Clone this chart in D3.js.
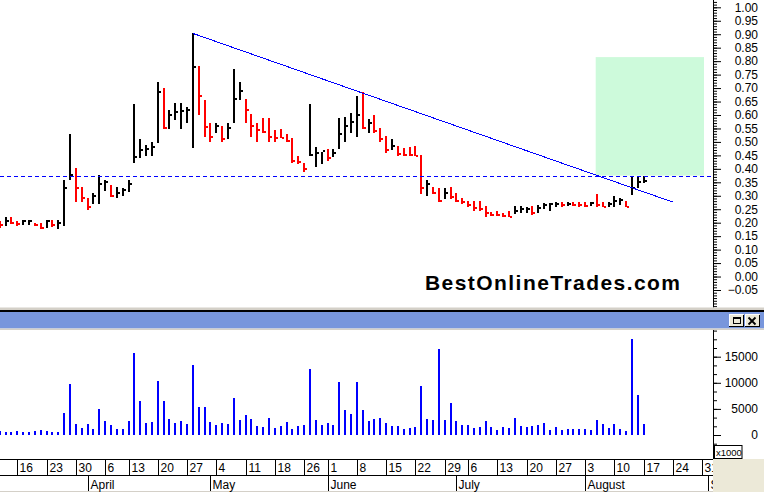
<!DOCTYPE html>
<html><head><meta charset="utf-8">
<script src="https://cdn.jsdelivr.net/npm/d3@7/dist/d3.min.js"></script>
<style>
html,body{margin:0;padding:0;background:#fff;overflow:hidden;}
svg{display:block;font-family:"Liberation Sans",Arial,sans-serif;}
</style></head><body>
<svg id="c" width="764" height="492"></svg>
<script>
// ---------- DATA ----------
const startDate = "2009-03-11";
const endDate   = "2009-09-04";
const holidays  = ["2009-04-10","2009-05-25","2009-07-03","2009-09-07"];

const highs = [
 .207,.220,.220,.207,.210,.210,.200,.200,.210,.210,.210,
 .358,.529,.402,.331,.290,.309,.377,.358,.340,
 .331,.327,.358,.641,.510,.488,.498,.724,.701,.619,
 .643,.643,.631,.903,.783,.656,.571,.571,.560,.571,
 .771,.724,.660,.602,.571,.588,.588,.544,.547,.529,
 .513,.448,.420,.641,.482,.464,.472,.472,.588,.594,
 .606,.671,.684,.585,.600,.550,.522,.510,.485,.476,
 .482,.486,.451,.358,.334,.330,.327,.331,.309,.290,
 .280,.280,.280,.262,.239,.244,.236,.244,.262,.262,
 .259,.262,.266,.274,.272,.278,.278,.278,.275,.278,
 .278,.278,.306,.278,.278,.299,.290,.282,.375,.375,.375];
const lows = [
 .181,.188,.195,.189,.191,.190,.188,.175,.180,.185,.178,
 .188,.358,.278,.278,.247,.268,.268,.319,.297,
 .290,.300,.315,.420,.439,.449,.449,.497,.547,.548,
 .581,.548,.571,.479,.600,.519,.501,.532,.501,.511,
 .571,.656,.571,.519,.501,.532,.501,.501,.513,.501,
 .420,.417,.389,.448,.408,.417,.430,.443,.472,.501,
 .532,.519,.547,.532,.532,.501,.460,.470,.448,.448,
 .448,.448,.306,.300,.306,.276,.287,.287,.276,.269,
 .259,.245,.245,.221,.223,.223,.220,.220,.232,.235,
 .237,.229,.237,.250,.244,.257,.260,.263,.263,.260,
 .260,.262,.260,.257,.260,.260,.266,.257,.303,.328,.346];
const closes = [
 .190,.205,.200,.195,.205,.208,.192,.180,.205,.190,.200,
 .330,.377,.330,.290,.260,.300,.345,.350,.300,
 .310,.320,.345,.445,.470,.475,.480,.685,.550,.600,
 .610,.615,.620,.780,.670,.555,.520,.560,.510,.550,
 .660,.690,.620,.560,.545,.535,.520,.515,.514,.505,
 .430,.425,.400,.450,.460,.465,.440,.460,.530,.560,
 .575,.600,.550,.570,.540,.510,.470,.485,.455,.452,
 .450,.448,.330,.345,.310,.280,.310,.295,.280,.275,
 .265,.255,.250,.235,.230,.228,.225,.222,.245,.250,
 .252,.235,.255,.265,.268,.270,.265,.270,.266,.264,
 .262,.272,.265,.260,.270,.280,.285,.260,.330,.350,.355];
const prevClose0 = 0.200;
const volumes = [
 770,640,640,770,640,640,830,960,770,640,640,
 4280,9780,2170,1400,2110,1210,5050,2750,1920,1090,1210,2750,
 15780,6580,2360,2560,10420,6580,3130,2360,2750,2110,13420,5430,5430,
 2560,1920,2300,2110,7160,2880,3830,3070,1730,1530,3260,1340,1730,2490,1150,1730,2000,
 12650,2880,1980,2300,1920,10160,4790,4030,10160,4790,2750,3070,3320,
 2240,1730,1730,1210,1400,1530,9390,3070,2880,16490,2880,6130,2680,1920,1920,
 1400,1530,2680,1530,960,1530,1340,3260,1730,1530,1730,1920,2300,960,1530,
 960,1150,1150,1150,1150,960,2880,2110,1340,2110,1150,770,18400,7670,2110];
const priceMajorTicks = d3.range(-0.05, 1.0001, 0.05);
const priceMinorTicks = d3.range(-0.12, 1.03, 0.01);
const volMajorTicks = [0, 5000, 10000, 15000];
const volMinorTicks = d3.range(-2, 13).map(k => k * 5000 / 3);
const resistance = 0.375;
const trendLine = [{i: 33, p: 0.903}, {i: 114.9, p: 0.277}];
const targetBox = {i0: 101.8, i1: 120.3, p0: 0.375, p1: 0.815};
const watermark = "BestOnlineTrades.com";
const monthNames = ["January","February","March","April","May","June","July","August","September","October","November","December"];

// ---------- CALENDAR ----------
function tradingDays(s, e, hol) {
  const out = [];
  let d = new Date(s + "T00:00:00Z");
  const end = new Date(e + "T00:00:00Z");
  while (d <= end) {
    const wd = d.getUTCDay();
    const iso = d.toISOString().slice(0, 10);
    if (wd !== 0 && wd !== 6 && !hol.includes(iso)) out.push(new Date(d));
    d = new Date(d.getTime() + 86400000);
  }
  return out;
}
const days = tradingDays(startDate, endDate, holidays);

// ---------- LAYOUT ----------
const svg = d3.select("#c");
const axisX = 713;
const priceBottom = 307.5;
const volTop = 330, volBottom = 459;

const x = d3.scaleLinear().domain([0, 110]).range([-0.3, 643.7]);
const yP = d3.scaleLinear().domain([-0.05, 1.0]).range([290, 7.3]);
const yV = d3.scaleLinear().domain([0, 15000]).range([435, 356.7]);

const defs = svg.append("defs");
defs.append("clipPath").attr("id","cp").append("rect").attr("x",0).attr("y",0).attr("width",axisX).attr("height",priceBottom);
defs.append("clipPath").attr("id","cv").append("rect").attr("x",0).attr("y",volTop).attr("width",axisX).attr("height",volBottom-volTop);
defs.append("clipPath").attr("id","cd").append("rect").attr("x",0).attr("y",459).attr("width",axisX).attr("height",33);
defs.append("clipPath").attr("id","cpa").append("rect").attr("x",axisX-1).attr("y",0).attr("width",60).attr("height",priceBottom);
defs.append("clipPath").attr("id","cva").append("rect").attr("x",axisX-1).attr("y",volTop).attr("width",60).attr("height",volBottom-volTop);

svg.append("rect").attr("width",764).attr("height",492).attr("fill","#fff");

// ---------- PRICE PANE ----------
const pp = svg.append("g").attr("clip-path","url(#cp)");

pp.append("rect")
  .attr("x", x(targetBox.i0)).attr("y", yP(targetBox.p1))
  .attr("width", x(targetBox.i1) - x(targetBox.i0))
  .attr("height", yP(targetBox.p0) - yP(targetBox.p1))
  .attr("fill", "#cdfadb");

const bars = pp.append("g").attr("shape-rendering","crispEdges");
highs.forEach((h, i) => {
  const prev = i === 0 ? prevClose0 : closes[i-1];
  const col = closes[i] < prev ? "#ff0000" : "#000000";
  const cx = Math.round(x(i));
  const yt = Math.round(yP(h)), yb = Math.round(yP(lows[i]));
  bars.append("rect").attr("x", cx-1).attr("y", yt).attr("width", 2).attr("height", Math.max(1, yb-yt)).attr("fill", col);
  bars.append("rect").attr("x", cx+1).attr("y", Math.round(yP(closes[i]))-1).attr("width", 2).attr("height", 2).attr("fill", col);
});

pp.append("line")
  .attr("x1", 0).attr("x2", axisX)
  .attr("y1", Math.round(yP(resistance))+0.5).attr("y2", Math.round(yP(resistance))+0.5)
  .attr("stroke", "#0000ff").attr("stroke-width", 1).attr("stroke-dasharray", "4,3")
  .attr("shape-rendering","crispEdges");

pp.append("line")
  .attr("x1", x(trendLine[0].i)).attr("y1", yP(trendLine[0].p))
  .attr("x2", x(trendLine[1].i)).attr("y2", yP(trendLine[1].p))
  .attr("stroke", "#0000ff").attr("stroke-width", 1)
  .attr("shape-rendering","crispEdges");

pp.append("text").text(watermark)
  .attr("x", 425).attr("y", 290)
  .attr("font-size", 21).attr("font-weight", "bold").attr("fill", "#000")
  .attr("textLength", 255).attr("lengthAdjust", "spacing");

// price axis
const pa = svg.append("g").attr("clip-path","url(#cpa)");
pa.append("g").attr("transform", `translate(${axisX},0)`)
  .call(d3.axisRight(yP).tickValues(priceMinorTicks).tickSize(4).tickFormat(""))
  .call(g => g.select(".domain").remove());
const pMaj = pa.append("g").attr("transform", `translate(${axisX},0)`)
  .call(d3.axisRight(yP).tickValues(priceMajorTicks).tickSize(8).tickFormat(d3.format(".2f")))
  .call(g => g.select(".domain").remove());
pMaj.selectAll("text").attr("x", 45).attr("text-anchor","end").attr("font-size", 12)
  .attr("font-family",'"Liberation Sans",Arial,sans-serif').attr("fill","#000");
pa.selectAll("line").attr("stroke","#000");
svg.append("line").attr("x1",axisX+0.5).attr("x2",axisX+0.5).attr("y1",0).attr("y2",priceBottom).attr("stroke","#000");

// ---------- SPLITTER / HEADER ----------
svg.append("rect").attr("x",0).attr("y",307.5).attr("width",764).attr("height",2.5).attr("fill","#d4d0c8");
svg.append("rect").attr("x",0).attr("y",310).attr("width",764).attr("height",2).attr("fill","#000");
svg.append("rect").attr("x",0).attr("y",312).attr("width",764).attr("height",16.5).attr("fill","#7896dc");
svg.append("rect").attr("x",0).attr("y",328.5).attr("width",764).attr("height",1.5).attr("fill","#d4d0c8");

function button(bx, draw) {
  const g = svg.append("g").attr("shape-rendering","crispEdges");
  g.append("rect").attr("x",bx).attr("y",314).attr("width",15).attr("height",13).attr("fill","#ece9d8");
  g.append("path").attr("d",`M${bx+0.5},${326.5}V${314.5}H${bx+14.5}`).attr("stroke","#fff").attr("fill","none");
  g.append("path").attr("d",`M${bx+0.5},${326.5}H${bx+14.5}V${314.5}`).attr("stroke","#000").attr("fill","none");
  draw(g, bx);
}
button(728.5, (g, bx) => {
  g.append("rect").attr("x",bx+4.5).attr("y",317.5).attr("width",7).attr("height",6).attr("fill","none").attr("stroke","#000");
  g.append("line").attr("x1",bx+4.5).attr("x2",bx+11.5).attr("y1",318.5).attr("y2",318.5).attr("stroke","#000");
});
button(744.5, (g, bx) => {
  g.append("path").attr("d",`M${bx+4},317.5L${bx+11},324.5M${bx+11},317.5L${bx+4},324.5`)
    .attr("stroke","#000").attr("stroke-width",1.8).attr("shape-rendering","auto");
});

// ---------- VOLUME PANE ----------
const vp = svg.append("g").attr("clip-path","url(#cv)").attr("shape-rendering","crispEdges");
volumes.forEach((v, i) => {
  const cx = Math.round(x(i));
  const yt = Math.round(yV(v));
  vp.append("rect").attr("x", cx-1).attr("y", yt).attr("width", 2).attr("height", Math.round(yV(0)) - yt).attr("fill", "#0000ff");
});
const va = svg.append("g").attr("clip-path","url(#cva)");
va.append("g").attr("transform", `translate(${axisX},0)`)
  .call(d3.axisRight(yV).tickValues(volMinorTicks).tickSize(4).tickFormat(""))
  .call(g => g.select(".domain").remove());
const vMaj = va.append("g").attr("transform", `translate(${axisX},0)`)
  .call(d3.axisRight(yV).tickValues(volMajorTicks).tickSize(8).tickFormat(d3.format("d")))
  .call(g => g.select(".domain").remove());
vMaj.selectAll("text").attr("x", 45).attr("text-anchor","end").attr("font-size", 12)
  .attr("font-family",'"Liberation Sans",Arial,sans-serif').attr("fill","#000");
va.selectAll("line").attr("stroke","#000");
svg.append("line").attr("x1",axisX+0.5).attr("x2",axisX+0.5).attr("y1",volTop).attr("y2",volBottom).attr("stroke","#000");
svg.append("rect").attr("x",714.5).attr("y",445.5).attr("width",27.5).attr("height",13).attr("fill","#fff").attr("stroke","#000");
svg.append("text").text("x1000").attr("x",716).attr("y",455.5).attr("font-size",9.5).attr("fill","#000");

// ---------- DATE AXIS ----------
svg.append("rect").attr("x",axisX).attr("y",459).attr("width",764-axisX).attr("height",33).attr("fill","#ece9d8");
svg.append("rect").attr("x",0).attr("y",491).attr("width",axisX).attr("height",1).attr("fill","#d4d0c8");
const da = svg.append("g").attr("clip-path","url(#cd)");
da.append("line").attr("x1",0).attr("x2",axisX).attr("y1",459.5).attr("y2",459.5).attr("stroke","#000");
da.append("line").attr("x1",0).attr("x2",axisX).attr("y1",475.5).attr("y2",475.5).attr("stroke","#000");

const weekStarts = [], monthStarts = [];
days.forEach((d, i) => {
  if (i === 0) return;
  const p = days[i-1];
  if ((d - p) / 86400000 > 1 || d.getUTCDay() < p.getUTCDay()) {
    if (d.getUTCDay() <= 2 && (d.getUTCDay() === 1 || (d - p) / 86400000 > 2)) weekStarts.push(i);
  }
  if (d.getUTCMonth() !== p.getUTCMonth()) monthStarts.push(i);
});
weekStarts.forEach(i => {
  const xx = Math.round(x(i)) + 0.5;
  da.append("line").attr("x1",xx).attr("x2",xx).attr("y1",459).attr("y2",475).attr("stroke","#000");
  da.append("text").text(days[i].getUTCDate()).attr("x", xx + 2).attr("y", 472).attr("font-size", 12).attr("fill","#000");
});
monthStarts.forEach(i => {
  const xx = Math.round(x(i)) + 0.5;
  da.append("line").attr("x1",xx).attr("x2",xx).attr("y1",475).attr("y2",491).attr("stroke","#000");
  da.append("text").text(monthNames[days[i].getUTCMonth()]).attr("x", xx + 2).attr("y", 488.5).attr("font-size", 12).attr("fill","#000");
});
</script>
</body></html>
